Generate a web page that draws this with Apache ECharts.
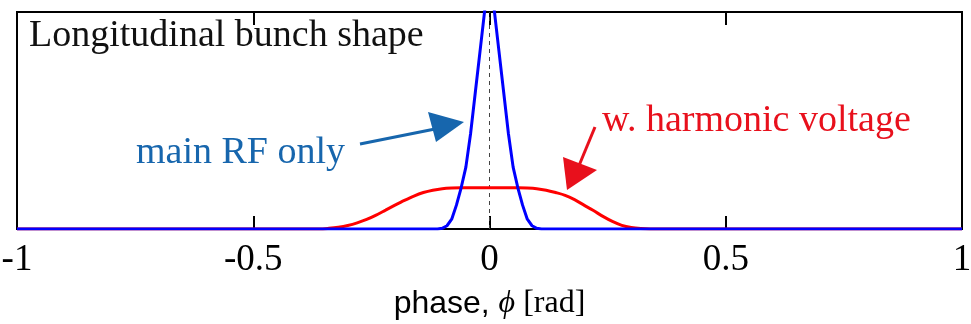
<!DOCTYPE html>
<html>
<head>
<meta charset="utf-8">
<script src="https://cdn.jsdelivr.net/npm/echarts@6/dist/echarts.min.js"></script>
<style>
  html, body { margin: 0; padding: 0; background: #fff; }
  #chart { width: 971px; height: 324px; }
</style>
</head>
<body>
<div id="chart"></div>
<script>
// Longitudinal bunch profiles versus RF phase (rad)
const xTicks = [-1, -0.5, 0, 0.5, 1];

// Main RF only: narrow peak (clipped at the top of the frame)
const mainPhase = [-1, -0.11, -0.10, -0.09, -0.08, -0.07, -0.06, -0.05, -0.04, -0.03, -0.02, -0.01, 0,
                   0.01, 0.02, 0.03, 0.04, 0.05, 0.06, 0.07, 0.08, 0.09, 0.10, 0.11, 1];
const mainShape = [0, 0, 0.003, 0.015, 0.045, 0.11, 0.19, 0.285, 0.44, 0.63, 0.82, 1.01, 1.12,
                   1.01, 0.82, 0.63, 0.44, 0.285, 0.19, 0.11, 0.045, 0.015, 0.003, 0, 0];

// With harmonic voltage: flattened, lengthened bunch
const harmPhase = [-1, -0.36, -0.34, -0.32, -0.30, -0.28, -0.26, -0.24, -0.22, -0.20, -0.18, -0.16, -0.14,
                   -0.12, -0.10, -0.08, -0.06, -0.04, -0.02, 0, 0.02, 0.04, 0.06, 0.08, 0.10, 0.12,
                   0.14, 0.16, 0.18, 0.20, 0.22, 0.24, 0.26, 0.28, 0.30, 0.32, 0.34, 1];
const harmShape = [0, 0, 0.003, 0.008, 0.016, 0.028, 0.044, 0.064, 0.087, 0.110, 0.132, 0.152, 0.168,
                   0.179, 0.186, 0.189, 0.19, 0.19, 0.19, 0.19, 0.19, 0.19, 0.19, 0.189, 0.186, 0.179,
                   0.168, 0.155, 0.135, 0.11, 0.085, 0.058, 0.035, 0.017, 0.007, 0.002, 0, 0];

const pairs = (xs, ys) => xs.map((x, i) => [x, ys[i]]);

const SERIF = '"Liberation Serif", "Times New Roman", serif';
const SANS = '"Liberation Sans", Arial, sans-serif';
const BLUE_NOTE = '#1766ad';
const RED_NOTE = '#e8101c';

const chart = echarts.init(document.getElementById('chart'), null, { renderer: 'canvas' });

const axisCommon = {
  type: 'value', min: -1, max: 1, interval: 0.5,
  axisLine: { show: true, onZero: false, lineStyle: { color: '#000', width: 2 } },
  axisTick: { show: true, inside: true, length: 13, lineStyle: { color: '#000', width: 2 } },
  splitLine: { show: false }
};

chart.setOption({
  animation: false,
  backgroundColor: '#fff',
  grid: {
    left: 17, right: 9, top: 12, bottom: 95,
    containLabel: false, outerBoundsMode: 'none',
    show: true, borderColor: '#000', borderWidth: 2, backgroundColor: 'transparent'
  },
  xAxis: [
    Object.assign({}, axisCommon, {
      position: 'bottom',
      axisLabel: {
        show: true, margin: 13, color: '#000', fontFamily: SERIF, fontSize: 37,
        formatter: v => (xTicks.indexOf(v) >= 0 ? String(v) : '')
      },
      name: '{a|phase, }{b|\u03d5}{c| [rad]}',
      nameLocation: 'middle', nameGap: 59,
      nameTextStyle: {
        rich: {
          a: { fontFamily: SANS, fontSize: 32, color: '#000' },
          b: { fontFamily: SERIF, fontStyle: 'italic', fontSize: 32, color: '#000' },
          c: { fontFamily: SERIF, fontSize: 32, color: '#000' }
        }
      }
    }),
    Object.assign({}, axisCommon, { position: 'top', axisLabel: { show: false } })
  ],
  yAxis: {
    type: 'value', min: 0, max: 1,
    axisLine: { show: false }, axisTick: { show: false }, axisLabel: { show: false }, splitLine: { show: false }
  },
  series: [
    {
      name: 'w. harmonic voltage', type: 'line', data: pairs(harmPhase, harmShape),
      showSymbol: false, smooth: 0.3, clip: true,
      lineStyle: { color: '#ff0000', width: 3 }, z: 3
    },
    {
      name: 'main RF only', type: 'line', data: pairs(mainPhase, mainShape),
      showSymbol: false, clip: true,
      lineStyle: { color: '#0000ff', width: 3 }, z: 4,
      markLine: {
        silent: true, symbol: 'none', label: { show: false },
        lineStyle: { color: '#444', type: [4, 4], width: 1 },
        data: [{ xAxis: 0 }], z: 1
      }
    }
  ],
  graphic: [
    { type: 'text', left: 29, top: 17, z: 10,
      style: { text: 'Longitudinal bunch shape', font: '38px ' + SERIF, fill: '#111' } },
    { type: 'text', left: 136, top: 134, z: 10,
      style: { text: 'main RF only', font: '38px ' + SERIF, fill: BLUE_NOTE } },
    { type: 'text', left: 602, top: 102, z: 10,
      style: { text: 'w. harmonic voltage', font: '38px ' + SERIF, fill: RED_NOTE } },
    // arrow: main RF only
    { type: 'line', z: 10, shape: { x1: 360, y1: 144, x2: 440, y2: 128 },
      style: { stroke: BLUE_NOTE, lineWidth: 3 } },
    { type: 'polygon', z: 10, shape: { points: [[464, 122], [428, 112], [436, 142]] },
      style: { fill: BLUE_NOTE } },
    // arrow: harmonic voltage
    { type: 'line', z: 10, shape: { x1: 595, y1: 127, x2: 578, y2: 168 },
      style: { stroke: RED_NOTE, lineWidth: 3 } },
    { type: 'polygon', z: 10, shape: { points: [[567, 190], [563, 157], [597, 170]] },
      style: { fill: RED_NOTE } }
  ]
});
</script>
</body>
</html>
